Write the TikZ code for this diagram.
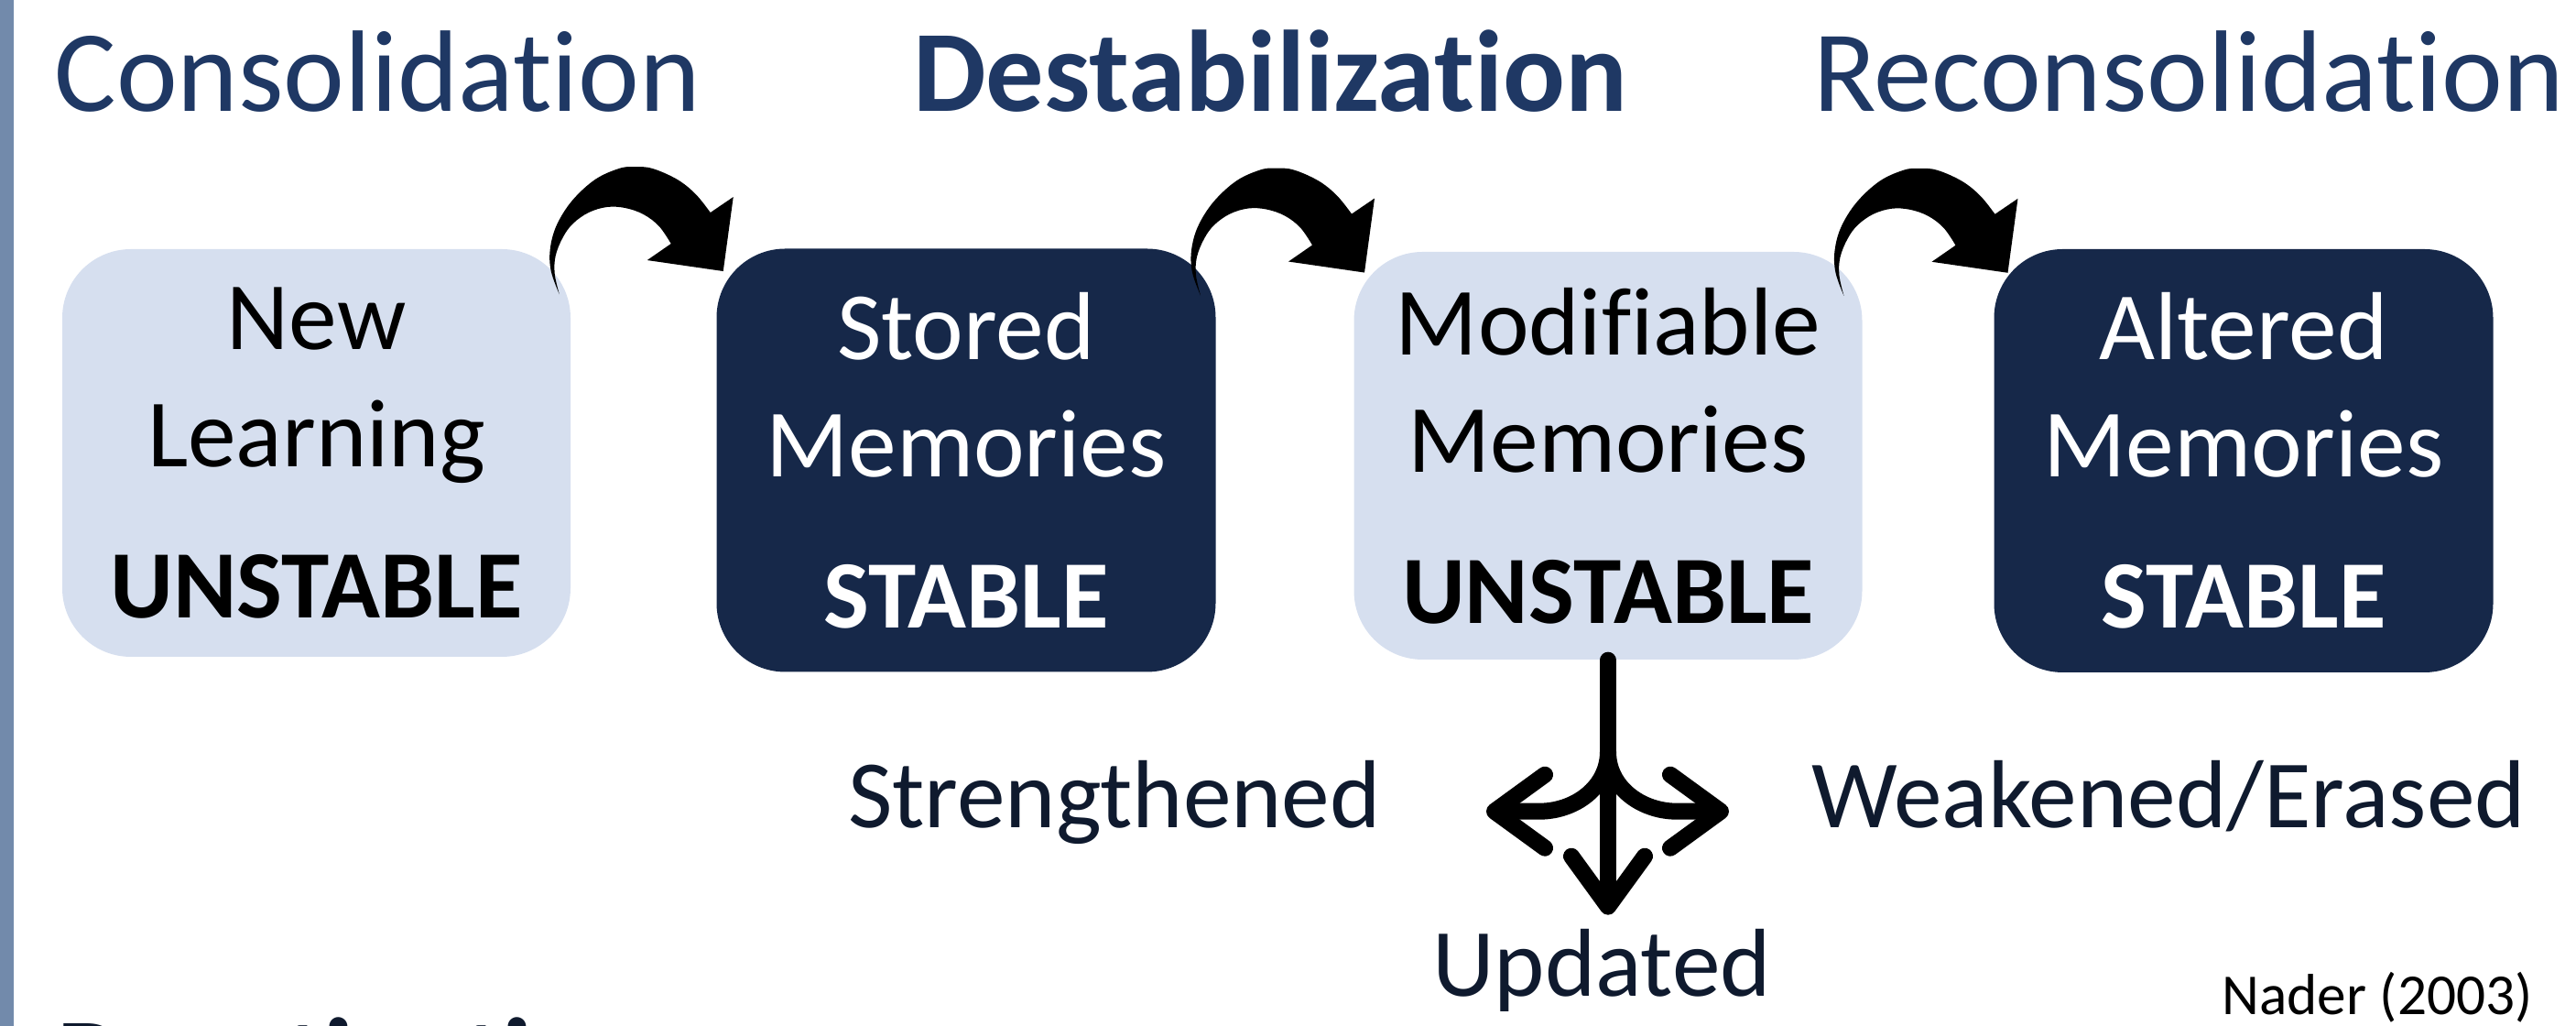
\documentclass[tikz,border=0pt]{standalone}
\usepackage{fontspec}
\setmainfont{Carlito}[Ligatures={NoCommon,NoContextual}]
\usetikzlibrary{arrows.meta, calc, positioning}

\definecolor{titleblue}{HTML}{1F3864}
\definecolor{boxdark}{HTML}{162849}
\definecolor{boxlight}{HTML}{D6DFEF}
\definecolor{labelnavy}{HTML}{0F1A2E}
\definecolor{barblue}{HTML}{728AAB}

\begin{document}
\begin{tikzpicture}[
  title/.style={anchor=base, text=titleblue, font=\fontsize{36}{43}\selectfont},
  membox/.style={rounded corners=0.75cm, inner sep=0pt, align=center,
    font=\fontsize{30}{36.4}\selectfont},
  unstable/.style={membox, fill=boxlight, text=black,
    minimum width=5.55cm, minimum height=4.45cm},
  stable/.style={membox, fill=boxdark, text=white,
    minimum width=5.45cm, minimum height=4.62cm},
  outcome/.style={anchor=base, text=labelnavy, font=\fontsize{30}{36}\selectfont},
  fork/.style={line width=0.18cm, line cap=round, line join=round},
  forktip/.style={-{Straight Barb[length=5.5mm, width=8mm, round]}},
  bend arrow/.pic={
    \fill[black] (-0.92,-0.50)
      -- plot[smooth, tension=0.6] coordinates {(-0.92,-0.50) (-1.01,-0.25) (-1.02,-0.01)
         (-0.95,0.25) (-0.78,0.52) (-0.53,0.75) (-0.27,0.87) (-0.10,0.89) (0.10,0.87)
         (0.37,0.75) (0.57,0.59) (0.73,0.39)}
      -- (0.98,0.56) -- (0.87,-0.25) -- (0.04,-0.13) -- (0.30,0.05)
      -- plot[smooth, tension=0.6] coordinates {(0.30,0.05) (0.17,0.24) (0.0,0.37)
         (-0.20,0.44) (-0.40,0.45) (-0.60,0.39) (-0.77,0.27) (-0.88,0.12) (-0.96,-0.08)
         (-0.97,-0.28) (-0.92,-0.50)}
      -- cycle;
  }
]

\useasboundingbox (0,0) rectangle (28.13,11.2);
\clip (0,0) rectangle (28.13,11.2);

% side bar
\fill[barblue] (0,0) rectangle (0.15,11.2);

% phase headings
\node[title] (consol) at (4.125,9.98) {Consolidation};
\node[title] (destab) at (13.87,9.98) {\textbf{Destabilization}};
\node[title] (recons) at (23.90,9.98) {Reconsolidation};

% memory states
\node[unstable] (learn) at (3.455,6.255) {New\\Learning\\[0.37cm]\textbf{UNSTABLE}};
\node[stable] (stored) at (10.55,6.175) {Stored\\Memories\\[0.37cm]\textbf{STABLE}};
\node[unstable] (modif) at (17.56,6.225) {Modifiable\\Memories\\[0.37cm]\textbf{UNSTABLE}};
\node[stable] (altered) at (24.50,6.17) {Altered\\Memories\\[0.37cm]\textbf{STABLE}};

% curved arrows between the states
\pic at ($(learn.north east)!0.5!(stored.north west)$) {bend arrow};
\pic at ($(stored.north east)!0.5!(modif.north west)$) {bend arrow};
\pic at ($(modif.north east)!0.5!(altered.north west)$) {bend arrow};

% three possible outcomes
\coordinate (split) at ($(modif.south)+(0,-1.0)$);
\coordinate (strongend) at ($(split)+(-1.33,-0.65)$);
\coordinate (weakend) at ($(split)+(1.32,-0.65)$);
\coordinate (updend) at ($(modif.south)+(0,-2.78)$);
\draw[fork] (modif.south) -- (split);
\draw[fork, forktip] (split) to[out=-90, in=0] ++(-0.75,-0.65) -- (strongend);
\draw[fork, forktip] (split) to[out=-90, in=180] ++(0.75,-0.65) -- (weakend);
\draw[fork, forktip] (split) -- (updend);

\node[outcome] (strong) at (12.17,2.16) {Strengthened};
\node[outcome] (weak) at (23.68,2.16) {Weakened/Erased};
\node[outcome] (upd) at (17.49,0.32) {Updated};

\node[anchor=base, font=\fontsize{18}{22}\selectfont] (cite) at (25.96,0.12) {Nader (2003)};

% next heading, cut off at the bottom
\node[anchor=base west, text=labelnavy, font=\fontsize{36}{43}\selectfont\bfseries]
  (react) at (0.50,-0.80) {Reactivation};

\end{tikzpicture}
\end{document}
